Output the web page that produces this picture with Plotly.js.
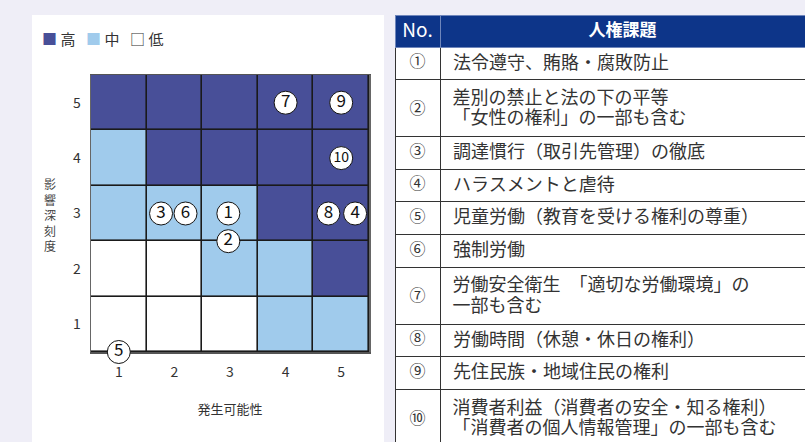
<!DOCTYPE html>
<html>
<head>
<meta charset="utf-8">
<script src="https://cdn.plot.ly/plotly-3.0.1.min.js"></script>
<style>
  html, body { margin: 0; padding: 0; background: #efeef7; }
  #chart { width: 805px; height: 442px; }
</style>
</head>
<body>
<div id="chart"></div>
<script>
// ── DATA ────────────────────────────────────────────
const likelihood = [1, 2, 3, 4, 5];          // 発生可能性
const severity   = [1, 2, 3, 4, 5];          // 影響深刻度
// 0 = 低, 1 = 中, 2 = 高  (rows: severity 1 → 5)
const riskLevel = [
  [0, 0, 0, 1, 1],
  [0, 0, 1, 1, 2],
  [1, 1, 1, 2, 2],
  [1, 2, 2, 2, 2],
  [2, 2, 2, 2, 2]
];

// circled issue markers placed inside the matrix
const issueNo = ['1', '2', '3', '4', '5', '6', '7', '8', '9', '10'];
const issueX  = [2.97, 2.97, 1.76, 5.25, 1, 2.2, 4, 4.77, 5, 5];
const issueY  = [3, 2.5, 3, 3, 0.5, 3, 5, 3, 5, 4];

// table
const tableHead  = ['No.', '人権課題'];
const issueMarks = ['①', '②', '③', '④', '⑤', '⑥', '⑦', '⑧', '⑨', '⑩'];
const issueTexts = [
  '法令遵守、賄賂・腐敗防止',
  '差別の禁止と法の下の平等<br>「女性の権利」の一部も含む',
  '調達慣行（取引先管理）の徹底',
  'ハラスメントと虐待',
  '児童労働（教育を受ける権利の尊重）',
  '強制労働',
  '労働安全衛生　「適切な労働環境」の<br>一部も含む',
  '労働時間（休憩・休日の権利）',
  '先住民族・地域住民の権利',
  '消費者利益（消費者の安全・知る権利）<br>「消費者の個人情報管理」の一部も含む'
];

const levelNames  = ['高', '中', '低'];
const levelGlyphs = ['■', '■', '□'];
const levelColors = ['#484f98', '#a0cbec', '#333333'];

const FONT = 'Noto Sans CJK JP, Noto Sans, sans-serif';
const TFONT = 'Liberation Sans, Noto Sans CJK JP, sans-serif';
const BG = '#efeef7';
const W = 805, H = 442;
const px = v => v / W;
const py = v => 1 - v / H;

// ── TRACES ──────────────────────────────────────────
const traces = [];

// gaps between bricks let the dark plot background show as grid lines
traces.push({
  type: 'heatmap',
  x: likelihood, y: severity, z: riskLevel,
  zmin: 0, zmax: 2,
  colorscale: [[0, '#ffffff'], [0.5, '#a0cbec'], [1, '#484f98']],
  showscale: false, xgap: 1.6, ygap: 1.6,
  hoverinfo: 'skip', showlegend: false
});

traces.push({
  type: 'scatter', mode: 'markers+text',
  x: issueX, y: issueY, text: issueNo,
  textposition: 'middle center',
  textfont: { family: FONT, size: issueNo.map(t => t.length > 1 ? 14 : 17), color: '#111' },
  marker: { symbol: 'circle', size: 23, color: '#ffffff', line: { color: '#111', width: 1 } },
  cliponaxis: false, showlegend: false, hoverinfo: 'skip'
});

// two-line rows: a small transparent first line pushes the number to mid-row;
// the text is set in 18px spans on a 16px base so the row stays compact
const twoLine = issueTexts.map(t => t.includes('<br>'));
const markCol = issueMarks.map((m, i) => twoLine[i]
  ? '<span style="color:rgba(0,0,0,0)">.</span><br><span style="font-size:16px">' + m + '</span>'
  : m);
const markSize = twoLine.map(b => b ? 11.6 : 16);
const textCol = issueTexts.map((t, i) => twoLine[i]
  ? t.split('<br>').map(line => '\u00a0<span style="font-size:18px">' + line + '</span>').join('<br>')
  : '\u00a0' + t);
const textSize = twoLine.map(b => b ? 16 : 18);

traces.push({
  type: 'table',
  domain: { x: [px(395), 1], y: [0, py(15)] },
  columnwidth: [45, 365],
  header: {
    values: tableHead,
    align: 'center', height: 32,
    fill: { color: '#0d3589' },
    line: { color: '#6f86bb', width: 1 },
    font: { family: FONT, size: [19, 17], color: '#ffffff', weight: ['normal', 'bold'] }
  },
  cells: {
    values: [markCol, textCol],
    align: ['center', 'left'], height: 32.7,
    fill: { color: '#ffffff' },
    line: { color: '#333', width: 1 },
    font: { family: TFONT, size: [markSize, textSize], color: '#333' }
  }
});

// ── LAYOUT ──────────────────────────────────────────
const legendNotes = levelNames.map((name, i) => ({
  xref: 'paper', yref: 'paper', x: px(40 + i * 44), y: py(38),
  xanchor: 'left', yanchor: 'middle', showarrow: false,
  text: '<span style="color:' + levelColors[i] + '">' + levelGlyphs[i] + '</span>\u00a0' + name,
  font: { family: FONT, size: 15, color: '#333' }
}));

// lavender page around the white chart card
const pageStrips = [[0, 805, 0, 15], [0, 32, 15, 442], [384, 395, 15, 442]].map(r => ({
  type: 'rect', xref: 'paper', yref: 'paper', layer: 'below',
  x0: px(r[0]), x1: px(r[1]), y0: py(r[3]), y1: py(r[2]),
  fillcolor: BG, line: { width: 0 }
}));

const layout = {
  width: W, height: H,
  paper_bgcolor: '#ffffff',
  plot_bgcolor: '#1a1a1a',
  margin: { t: 0, b: 0, l: 0, r: 0 },
  font: { family: FONT, color: '#333', size: 14 },
  showlegend: false,
  xaxis: {
    domain: [px(91), px(369)], range: [0.5, 5.5],
    tickvals: likelihood, ticks: '', showgrid: false, zeroline: false,
    showline: true, mirror: true, linecolor: '#555', linewidth: 1.5,
    layer: 'below traces',
    tickfont: { size: 14, color: '#333' }, ticklabelstandoff: 7,
    title: { text: '発生可能性', font: { size: 13, color: '#333' }, standoff: 24 },
    fixedrange: true
  },
  yaxis: {
    domain: [py(352), py(75)], range: [0.5, 5.5],
    tickvals: severity, ticks: '', showgrid: false, zeroline: false,
    showline: true, mirror: true, linecolor: '#666', linewidth: 1.5,
    tickfont: { size: 14, color: '#333' }, ticklabelstandoff: 6,
    fixedrange: true
  },
  shapes: pageStrips,
  annotations: legendNotes.concat([{
    xref: 'paper', yref: 'paper', x: px(42), y: py(214),
    text: '影<br>響<br>深<br>刻<br>度', showarrow: false,
    font: { family: FONT, size: 12, color: '#444' }
  }])
};

Plotly.newPlot('chart', traces, layout, { displayModeBar: false, staticPlot: true });
</script>
</body>
</html>
